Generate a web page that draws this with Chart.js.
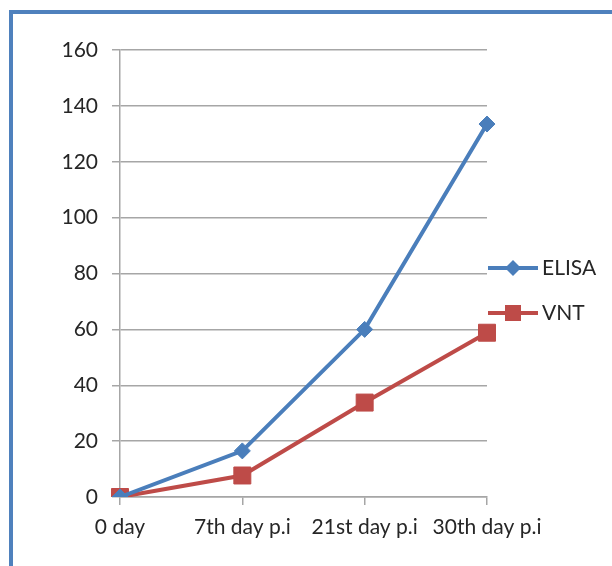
<!DOCTYPE html>
<html>
<head>
<meta charset="utf-8">
<script src="https://cdn.jsdelivr.net/npm/chart.js@4.4.1/dist/chart.umd.min.js"></script>
<style>
  html, body { margin: 0; padding: 0; background: #fff; }
  #marco { position: absolute; left: 9px; top: 10px; width: 700px; height: 700px;
           border-left: 4px solid #4f81bd; border-top: 4px solid #4f81bd; }
  #caja { position: absolute; left: 0; top: 0; width: 612px; height: 566px; }
</style>
</head>
<body>
<div id="marco"></div>
<div id="caja"><canvas id="grafico"></canvas></div>
<script>
// Datos
const dias = ['0 day', '7th day p.i', '21st day p.i', '30th day p.i'];
const elisa = [0, 16.5, 60, 133.5];
const vnt = [0, 7.7, 33.8, 58.8];

const azul = '#4a7ebb';
const rojo = '#be4b48';
const gris = '#a6a6a6';
const fuente = { family: 'Lato', size: 21 };

// Leyenda dibujada a mano (línea + marcador + texto), como en Excel
const leyendaExcel = {
    id: 'leyendaExcel',
    afterDraw(chart) {
        const ctx = chart.ctx;
        const filas = [268, 313];
        chart.data.datasets.forEach((ds, i) => {
            const y = filas[i];
            ctx.save();
            ctx.strokeStyle = ds.borderColor;
            ctx.lineWidth = 4;
            ctx.beginPath();
            ctx.moveTo(488, y);
            ctx.lineTo(538, y);
            ctx.stroke();
            ctx.fillStyle = ds.borderColor;
            ctx.beginPath();
            if (ds.pointStyle === 'rectRot') {
                ctx.moveTo(513 - 8, y);
                ctx.lineTo(513, y - 8);
                ctx.lineTo(513 + 8, y);
                ctx.lineTo(513, y + 8);
                ctx.closePath();
            } else {
                ctx.rect(513 - 8, y - 8, 16, 16);
            }
            ctx.fill();
            ctx.fillStyle = '#262626';
            ctx.font = fuente.size + 'px ' + fuente.family;
            ctx.textBaseline = 'middle';
            ctx.fillText(ds.label, 542, y);
            ctx.restore();
        });
    }
};

const ctx = document.getElementById('grafico').getContext('2d');
new Chart(ctx, {
    type: 'line',
    data: {
        labels: dias,
        datasets: [
            {
                label: 'ELISA',
                data: elisa,
                borderColor: azul,
                backgroundColor: azul,
                borderWidth: 4,
                pointStyle: 'rectRot',
                pointRadius: 8,
                pointBorderWidth: 1,
                tension: 0
            },
            {
                label: 'VNT',
                data: vnt,
                borderColor: rojo,
                backgroundColor: rojo,
                borderWidth: 4,
                pointStyle: 'rect',
                pointRadius: 12,
                pointBorderWidth: 1,
                tension: 0
            }
        ]
    },
    options: {
        responsive: true,
        maintainAspectRatio: false,
        animation: false,
        layout: { padding: { left: 0, top: 50, right: 125, bottom: 0 } },
        plugins: {
            legend: { display: false },
            tooltip: { enabled: false }
        },
        scales: {
            x: {
                offset: false,
                grid: { drawOnChartArea: false, color: gris, lineWidth: 1.5, tickLength: 8 },
                border: { color: gris, width: 1.5 },
                ticks: { color: '#262626', font: fuente, padding: 10, maxRotation: 0, autoSkip: false },
                afterFit(escala) { escala.height = 69; }
            },
            y: {
                min: 0,
                max: 160,
                grid: { color: gris, lineWidth: 1.5, tickLength: 8 },
                border: { color: gris, width: 1.5 },
                ticks: { stepSize: 20, color: '#262626', font: fuente, padding: 14 },
                afterFit(escala) { escala.width = 120; }
            }
        }
    },
    plugins: [leyendaExcel]
});
</script>
</body>
</html>
